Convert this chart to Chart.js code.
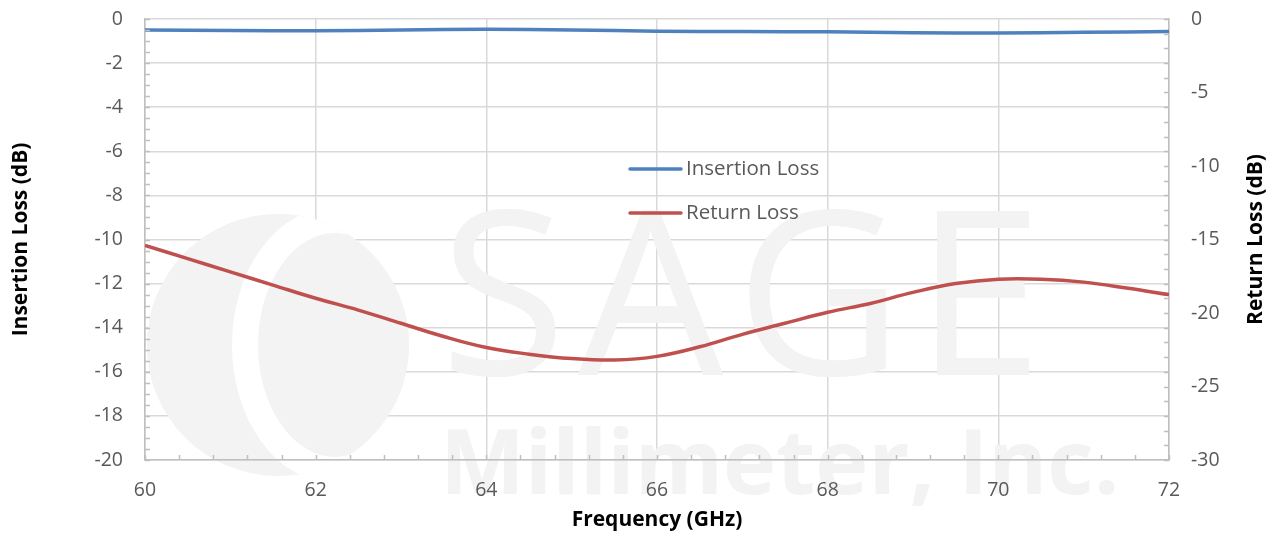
<!DOCTYPE html>
<html>
<head>
<meta charset="utf-8">
<script src="https://cdn.jsdelivr.net/npm/chart.js@4.4.1/dist/chart.umd.min.js"></script>
<style>
  html, body { margin: 0; padding: 0; background: #fff; }
  #wrap { width: 1276px; height: 535px; position: relative; }
</style>
</head>
<body>
<div id="wrap"><canvas id="c"></canvas></div>
<script>
// Insertion loss (left axis, dB) sampled each GHz
var ilFreq = [60, 61, 62, 63, 64, 65, 66, 67, 68, 69, 70, 71, 72];
var ilVals = [-0.50, -0.52, -0.53, -0.50, -0.47, -0.50, -0.55, -0.57, -0.58, -0.62, -0.63, -0.60, -0.57];

// Return loss (right axis, dB) sampled each 0.5 GHz
var rlFreq = [60, 60.5, 61, 61.5, 62, 62.5, 63, 63.5, 64, 64.5, 65, 65.5, 66,
              66.5, 67, 67.5, 68, 68.5, 69, 69.5, 70, 70.5, 71, 71.5, 72];
var rlVals = [-15.4, -16.3, -17.2, -18.1, -19.0, -19.8, -20.7, -21.6, -22.35, -22.8, -23.1, -23.2, -22.95,
              -22.3, -21.45, -20.7, -19.95, -19.35, -18.6, -18.0, -17.7, -17.7, -17.9, -18.3, -18.75];

var seriesNames = ["Insertion Loss", "Return Loss"];
var seriesColors = ["#4f81bd", "#c0504d"];
var rightTitle = "Return Loss (dB)";

var FONT = "'Open Sans', Lato, sans-serif";
var TICK_COLOR = "#595959";
var AXIS_COLOR = "#bfbfbf";
var GRID_COLOR = "#d9d9d9";

function pts(xs, ys) {
  var out = [];
  for (var i = 0; i < xs.length; i++) out.push({ x: xs[i], y: ys[i] });
  return out;
}

function paintWatermark(ctx) {
  var shade = "#f3f3f3";
  ctx.save();
  ctx.beginPath();
  ctx.arc(278, 345, 131, 0, Math.PI * 2);
  ctx.fillStyle = shade;
  ctx.fill();
  ctx.clip();
  // white crescent band of the logo
  ctx.strokeStyle = "#fff";
  ctx.lineWidth = 26;
  ctx.beginPath();
  ctx.ellipse(335, 345, 90, 125, 0, 0, Math.PI * 2);
  ctx.stroke();
  ctx.restore();
  ctx.save();
  ctx.fillStyle = shade;
  ctx.textBaseline = "alphabetic";
  if ("letterSpacing" in ctx) ctx.letterSpacing = "12px";
  ctx.font = "230px " + FONT;
  ctx.fillText("SAGE", 440, 375);
  if ("letterSpacing" in ctx) ctx.letterSpacing = "0px";
  ctx.font = "bold 90px " + FONT;
  ctx.fillText("Millimeter, Inc.", 440, 494);
  ctx.restore();
}

// faint company watermark: full copy behind everything (so tick labels sit
// on top of it), then a copy clipped to the plot so it hides the grid lines
var watermark = {
  id: "watermark",
  beforeDraw: function (chart) {
    paintWatermark(chart.ctx);
  },
  beforeDatasetsDraw: function (chart) {
    var ctx = chart.ctx, a = chart.chartArea;
    ctx.save();
    ctx.beginPath();
    ctx.rect(a.left + 1, a.top, a.right - a.left - 2, a.bottom - a.top - 1);
    ctx.clip();
    paintWatermark(ctx);
    ctx.restore();
  }
};

// inward minor tick marks and the right-hand title
var extras = {
  id: "extras",
  afterDraw: function (chart) {
    var ctx = chart.ctx, a = chart.chartArea;
    var sx = chart.scales.x, yl = chart.scales.y, yr = chart.scales.y2;
    ctx.save();
    ctx.strokeStyle = AXIS_COLOR;
    ctx.lineWidth = 1.5;
    ctx.beginPath();
    var v, p;
    for (v = 60; v <= 72.001; v += 0.4) {
      p = Math.round(sx.getPixelForValue(v)) + 0.5;
      ctx.moveTo(p, a.bottom); ctx.lineTo(p, a.bottom - 5);
    }
    for (v = 0; v >= -20.001; v -= 0.5) {
      p = Math.round(yl.getPixelForValue(v)) + 0.5;
      ctx.moveTo(a.left, p); ctx.lineTo(a.left + 5, p);
    }
    for (v = 0; v >= -30.001; v -= 1) {
      p = Math.round(yr.getPixelForValue(v)) + 0.5;
      ctx.moveTo(a.right, p); ctx.lineTo(a.right - 5, p);
    }
    ctx.stroke();

    ctx.translate(1256, (a.top + a.bottom) / 2);
    ctx.rotate(-Math.PI / 2);
    ctx.fillStyle = "#000";
    ctx.font = "bold 21px " + FONT;
    ctx.textAlign = "center";
    ctx.textBaseline = "middle";
    ctx.fillText(rightTitle, 0, 0);
    ctx.restore();
  }
};

// legend drawn inside the plot area
var innerLegend = {
  id: "innerLegend",
  afterDatasetsDraw: function (chart) {
    var ctx = chart.ctx;
    var ds = chart.data.datasets;
    ctx.save();
    ctx.font = "20.5px " + FONT;
    ctx.textBaseline = "middle";
    for (var i = 0; i < ds.length; i++) {
      var y = 169 + i * 44;
      ctx.strokeStyle = ds[i].borderColor;
      ctx.lineWidth = 3.5;
      ctx.lineCap = "round";
      ctx.beginPath();
      ctx.moveTo(630, y); ctx.lineTo(681, y);
      ctx.stroke();
      ctx.fillStyle = TICK_COLOR;
      ctx.fillText(ds[i].label, 686, y);
    }
    ctx.restore();
  }
};

function fitY(w) {
  return function (s) { s.width = w; s.paddingTop = 0; s.paddingBottom = 0; };
}

new Chart(document.getElementById("c"), {
  type: "line",
  data: {
    datasets: [
      { label: seriesNames[0], data: pts(ilFreq, ilVals), yAxisID: "y",
        borderColor: seriesColors[0], borderWidth: 3.5, pointRadius: 0, tension: 0.4 },
      { label: seriesNames[1], data: pts(rlFreq, rlVals), yAxisID: "y2",
        borderColor: seriesColors[1], borderWidth: 3.5, pointRadius: 0, tension: 0.4 }
    ]
  },
  options: {
    responsive: true,
    maintainAspectRatio: false,
    animation: false,
    layout: { padding: { top: 19, left: 0, right: 0, bottom: 0 } },
    plugins: { legend: { display: false }, tooltip: { enabled: false } },
    scales: {
      x: {
        type: "linear", min: 60, max: 72,
        ticks: { stepSize: 2, color: TICK_COLOR, font: { family: FONT, size: 19.5 }, padding: 19, maxRotation: 0 },
        grid: { color: GRID_COLOR, lineWidth: 1.5, drawTicks: false },
        border: { color: AXIS_COLOR, width: 1.5 },
        title: { display: true, text: "Frequency (GHz)", color: "#000",
                 font: { family: FONT, size: 21, weight: "bold" }, padding: { top: 4, bottom: 2 } },
        afterFit: function (s) { s.height = 75; s.paddingLeft = 0; s.paddingRight = 0; }
      },
      y: {
        position: "left", min: -20, max: 0,
        ticks: { stepSize: 2, color: TICK_COLOR, font: { family: FONT, size: 19.5 }, padding: 22 },
        grid: { color: GRID_COLOR, lineWidth: 1.5, drawTicks: false },
        border: { color: AXIS_COLOR, width: 1.5 },
        title: { display: true, text: "Insertion Loss (dB)", color: "#000",
                 font: { family: FONT, size: 21, weight: "bold" }, padding: { top: 8, bottom: 0 } },
        afterFit: fitY(145)
      },
      y2: {
        position: "right", min: -30, max: 0,
        ticks: { stepSize: 5, color: TICK_COLOR, font: { family: FONT, size: 19.5 }, padding: 22 },
        grid: { display: false, drawTicks: false },
        border: { color: AXIS_COLOR, width: 1.5 },
        title: { display: false },
        afterFit: fitY(107)
      }
    }
  },
  plugins: [watermark, extras, innerLegend]
});
</script>
</body>
</html>
